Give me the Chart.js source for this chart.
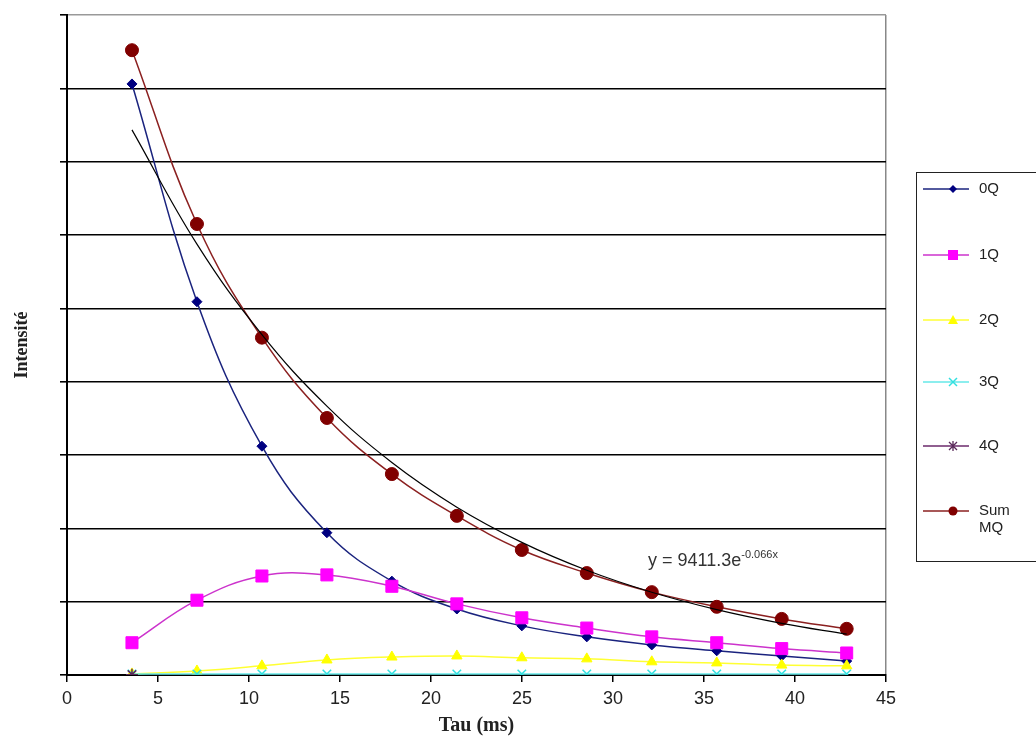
<!DOCTYPE html>
<html>
<head>
<meta charset="utf-8">
<script src="https://cdn.jsdelivr.net/npm/chart.js@4.4.1/dist/chart.umd.min.js"></script>
<style>
  html, body { margin: 0; padding: 0; background: #fff; }
  #wrap { position: relative; width: 1036px; height: 738px; overflow: hidden; }
  #c { position: absolute; left: 0; top: 0; }
  #legend { position: absolute; left: 916px; top: 172px; width: 140px; height: 390px;
            border: 1px solid #222; box-sizing: border-box; font-family: Arial, "Liberation Sans", sans-serif;
            font-size: 15px; color: #222; }
  .li { position: absolute; left: 6px; height: 20px; display: flex; align-items: flex-start; }
  .li svg { display: block; margin-top: 2px; }
  .li span { margin-left: 4px; line-height: 17px; }
  #eq { position: absolute; left: 648px; top: 551px; font-family: Arial, "Liberation Sans", sans-serif;
        font-size: 18px; color: #333; line-height: 1; white-space: nowrap; }
  #eq sup { font-size: 11px; vertical-align: 0; position: relative; top: -8px; }
</style>
</head>
<body>
<div id="wrap">
  <canvas id="c" width="1036" height="738"></canvas>
  <div id="legend"></div>
  <div id="eq">y = 9411.3e<sup>-0.066x</sup></div>
</div>
<script>
// ---- data ----
const tau = [3.57, 7.14, 10.71, 14.28, 17.85, 21.42, 24.99, 28.56, 32.13, 35.70, 39.27, 42.84];
const q0 = [8060, 5090, 3120, 1940, 1280, 900, 670, 520, 410, 330, 260, 190];
const q1 = [440, 1020, 1350, 1365, 1210, 970, 780, 640, 520, 440, 360, 300];
const q2 = [15, 55, 125, 205, 245, 260, 235, 220, 180, 165, 135, 125];
const q3 = [15, 15, 15, 15, 15, 15, 15, 15, 15, 15, 15, 15];
const q4 = [5, null, null, null, null, null, null, null, null, null, null, null];
const sumMQ = [8520, 6150, 4600, 3505, 2740, 2170, 1705, 1390, 1130, 930, 765, 630];
const trend = [7433, 5876, 4642, 3667, 2898, 2289, 1809, 1429, 1129, 892, 705, 557];
const xTicks = [0, 5, 10, 15, 20, 25, 30, 35, 40, 45];
const seriesNames = ['0Q', '1Q', '2Q', '3Q', '4Q', 'Sum MQ'];

const pts = arr => tau.map((x, i) => ({x: x, y: arr[i]})).filter(p => p.y !== null);

const series = [
  {label: '0Q', data: pts(q0), color: '#000080', line: '#1a237e', style: 'rectRot', r: 5},
  {label: '1Q', data: pts(q1), color: '#ff00ff', line: '#cc33cc', style: 'rect', r: 8.5},
  {label: '2Q', data: pts(q2), color: '#ffff00', line: '#ffff33', style: 'triangle', r: 6},
  {label: '3Q', data: pts(q3), color: '#33e0e0', line: '#66e8e8', style: 'crossRot', r: 6},
  {label: '4Q', data: pts(q4), color: '#5a2a5a', line: '#6b2a6b', style: 'star', r: 6},
  {label: 'Sum MQ', data: pts(sumMQ), color: '#800000', line: '#8b2020', style: 'circle', r: 6.5},
];

const datasets = series.map((s, i) => ({
  label: s.label, data: s.data, borderColor: s.line, backgroundColor: s.color,
  pointBackgroundColor: s.color, pointBorderColor: s.color, pointStyle: s.style,
  pointRadius: s.r, pointBorderWidth: (s.style === 'crossRot' || s.style === 'star') ? 1.5 : 1,
  borderWidth: 1.5, tension: 0.4, showLine: true, fill: false, order: series.length - i
}));
datasets.push({
  label: 'trend', data: pts(trend), borderColor: '#000', borderWidth: 1.2, pointRadius: 0,
  tension: 0.4, showLine: true, fill: false, order: 0
});

new Chart(document.getElementById('c'), {
  type: 'scatter',
  data: {datasets: datasets},
  options: {
    responsive: false, animation: false,
    layout: {padding: {left: 0, right: 150, top: 15, bottom: 0}},
    plugins: {legend: {display: false}, tooltip: {enabled: false}},
    scales: {
      x: {
        type: 'linear', min: 0, max: 45,
        afterBuildTicks: s => { s.ticks = xTicks.map(v => ({value: v})); },
        afterFit: s => { s.height = 63; },
        ticks: {font: {family: 'Arial, "Liberation Sans"', size: 18}, color: '#222', padding: 6, maxRotation: 0},
        grid: {drawOnChartArea: true, color: c => (c.tick && c.tick.value === 45) ? '#888' : 'rgba(0,0,0,0)',
               tickColor: '#000', tickLength: 7, lineWidth: 1.5},
        border: {color: '#000', width: 2},
        title: {display: true, text: 'Tau (ms)', font: {family: '"Liberation Serif", "Times New Roman", serif', size: 20, weight: 'bold'},
                color: '#222', padding: {top: 0, bottom: 0}}
      },
      y: {
        type: 'linear', min: 0, max: 9000,
        ticks: {stepSize: 1000, display: false},
        afterFit: s => { s.width = 67; },
        grid: {color: c => (c.tick && c.tick.value === 9000) ? '#999' : '#000', tickColor: '#000', tickLength: 7, lineWidth: 1.6},
        border: {color: '#000', width: 2},
        title: {display: true, text: 'Intensité', font: {family: '"Liberation Serif", "Times New Roman", serif', size: 18, weight: 'bold'},
                color: '#222', padding: {top: 12, bottom: 0}}
      }
    }
  }
});

// ---- HTML legend ----
const legendTops = [6, 72, 137, 199, 263, 328];
const lg = document.getElementById('legend');
function markerSVG(s) {
  const cx = 30, cy = 8;
  let m = '';
  if (s.style === 'rectRot') m = `<polygon points="${cx},${cy-4} ${cx+4},${cy} ${cx},${cy+4} ${cx-4},${cy}" fill="${s.color}"/>`;
  else if (s.style === 'rect') m = `<rect x="${cx-5}" y="${cy-5}" width="10" height="10" fill="${s.color}"/>`;
  else if (s.style === 'triangle') m = `<polygon points="${cx},${cy-5} ${cx+5},${cy+4} ${cx-5},${cy+4}" fill="${s.color}"/>`;
  else if (s.style === 'crossRot') m = `<path d="M${cx-4},${cy-4}L${cx+4},${cy+4}M${cx+4},${cy-4}L${cx-4},${cy+4}" stroke="${s.color}" stroke-width="1.5"/>`;
  else if (s.style === 'star') m = `<path d="M${cx-4},${cy-4}L${cx+4},${cy+4}M${cx+4},${cy-4}L${cx-4},${cy+4}M${cx},${cy-5}L${cx},${cy+5}" stroke="${s.color}" stroke-width="1.3"/>`;
  else m = `<circle cx="${cx}" cy="${cy}" r="4.5" fill="${s.color}"/>`;
  return `<svg width="52" height="16"><line x1="0" y1="${cy}" x2="46" y2="${cy}" stroke="${s.line}" stroke-width="1.5"/>${m}</svg>`;
}
series.forEach((s, i) => {
  const d = document.createElement('div');
  d.className = 'li';
  d.style.top = legendTops[i] + 'px';
  const txt = s.label === 'Sum MQ' ? 'Sum<br>MQ' : s.label;
  d.innerHTML = markerSVG(s) + `<span>${txt}</span>`;
  lg.appendChild(d);
});
</script>
</body>
</html>
